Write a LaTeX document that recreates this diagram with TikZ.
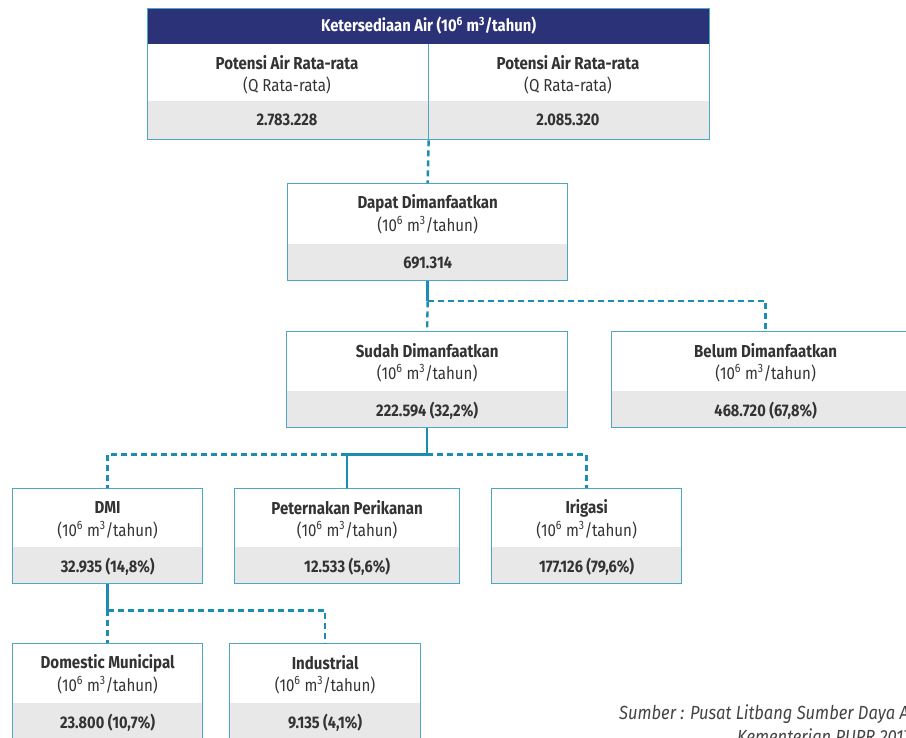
\documentclass[tikz,border=0pt]{standalone}
\usepackage{fontspec}
\setmainfont{Fira Sans}[FakeStretch=0.87]
\usetikzlibrary{calc}
\definecolor{navy}{HTML}{2C3277}
\definecolor{boxline}{HTML}{4EA6C4}
\definecolor{conn}{HTML}{1B8DB3}
\definecolor{band}{HTML}{E8E8E8}
\definecolor{txt}{HTML}{333333}
\definecolor{srctxt}{HTML}{444444}
\tikzset{
  cardbox/.style={draw=boxline, line width=1.3pt, anchor=north west, inner sep=0pt},
  ttl/.style={font=\fontsize{17.3}{20}\selectfont\bfseries, text=txt, inner sep=0pt},
  unit/.style={font=\fontsize{17.3}{20}\selectfont, text=txt, inner sep=0pt},
  val/.style={font=\fontsize{16.8}{20}\selectfont\bfseries, text=txt, inner sep=0pt},
  hdr/.style={font=\fontsize{17}{20}\selectfont\bfseries, text=white, inner sep=0pt},
  src/.style={font=\fontsize{19}{21}\selectfont\itshape, text=srctxt, inner sep=0pt, anchor=west},
  solidc/.style={draw=conn, line width=2.4pt},
  dashc/.style={draw=conn, line width=2.4pt, dash pattern=on 6pt off 4pt},
}
\newcommand\card[7]{%
  \fill[band] (#2,#5-36) rectangle (#4,#5);
  \node[cardbox, minimum width={(#4-#2)*1pt}, minimum height={(#5-#3)*1pt}] (#1) at (#2,#3) {};
  \node[ttl] (#1-t) at ($(#1.north)+(0,20)$) {#6};
  \node[unit] (#1-u) at ($(#1.north)+(0,42)$) {(10\textsuperscript{6} m\textsuperscript{3}/tahun)};
  \node[val] (#1-v) at ($(#1.south)+(0,-18)$) {#7};
}
\begin{document}
\begin{tikzpicture}[x=1pt,y=-1pt]
\useasboundingbox (0,0) rectangle (906,738);
\clip (0,0) rectangle (906,738);
% top table
\fill[band] (147,101) rectangle (709,139);
\fill[navy] (147,8) rectangle (709,44);
\node[cardbox, minimum width=562pt, minimum height=131pt] (ker) at (147,8) {};
\draw[boxline, line width=1.3pt] ($(ker.north)+(0,36)$) -- (ker.south);
\node[hdr] (ker-h) at ($(ker.north)+(0,18)$) {Ketersediaan Air (10\textsuperscript{6} m\textsuperscript{3}/tahun)};
\node[ttl] (p1-t) at (287,63) {Potensi Air Rata-rata};
\node[unit] (p1-u) at (287,85) {(Q Rata-rata)};
\node[val] (p1-v) at (287,120) {2.783.228};
\node[ttl] (p2-t) at (568,63) {Potensi Air Rata-rata};
\node[unit] (p2-u) at (568,85) {(Q Rata-rata)};
\node[val] (p2-v) at (568,120) {2.085.320};
% cards
\card{dapat}{287}{183}{567}{280}{Dapat Dimanfaatkan}{691.314}
\card{sudah}{286}{331}{567}{427}{Sudah Dimanfaatkan}{222.594 (32,2\%)}
\card{belum}{611}{331}{919}{427}{Belum Dimanfaatkan}{468.720 (67,8\%)}
\card{dmi}{12}{488}{202}{583}{DMI}{32.935 (14,8\%)}
\card{pet}{234}{488}{459}{583}{Peternakan Perikanan}{12.533 (5,6\%)}
\card{irig}{491}{488}{681}{583}{Irigasi}{177.126 (79,6\%)}
\card{dom}{12}{643}{202}{739}{Domestic Municipal}{23.800 (10,7\%)}
\card{ind}{229}{643}{420}{739}{Industrial}{9.135 (4,1\%)}
% connectors
\draw[dashc] (ker.south) -- (dapat.north);
\coordinate (j1) at ($(dapat.south)+(0,20)$);
\draw[solidc] (dapat.south) -- (j1);
\draw[dashc] (j1) -- (sudah.north);
\draw[dashc] (j1) -| (belum.north);
\coordinate (j2) at ($(sudah.south)+(0,26)$);
\coordinate (j2p) at (pet.north |- j2);
\draw[solidc] (sudah.south) -- (j2) -- (j2p) -- (pet.north);
\draw[dashc] (j2p) -| (dmi.north);
\draw[dashc] (j2) -| (irig.north);
\coordinate (j3) at ($(dmi.south)+(0,26)$);
\draw[solidc] (dmi.south) -- (j3);
\draw[dashc] (j3) -- (dom.north);
\draw[dashc] (j3) -| (ind.north);
% source
\node[src] (src1) at (619,714) {Sumber : Pusat Litbang Sumber Daya Air};
\node[src] (src2) at (737,736) {Kementerian PUPR 2017};
\end{tikzpicture}
\end{document}
